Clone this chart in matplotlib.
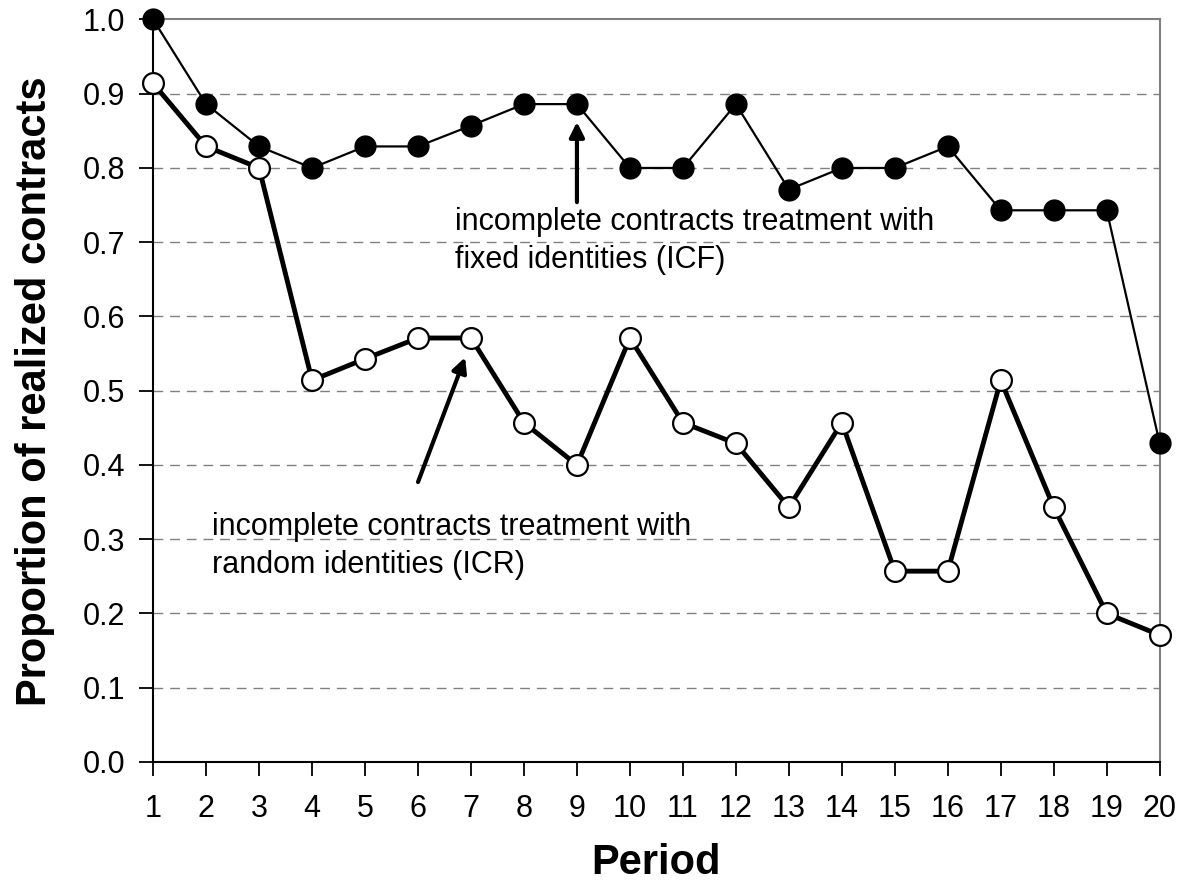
import matplotlib
matplotlib.use('Agg')
import matplotlib.pyplot as plt
import numpy as np

matplotlib.rc('font', family=['Liberation Sans', 'DejaVu Sans'], size=22)

GRAY = np.array([128, 128, 128])/255

# Data
periods = np.arange(1, 21)
icf = [1.000, 0.886, 0.829, 0.800, 0.829, 0.829, 0.857, 0.886, 0.886, 0.800,
       0.800, 0.886, 0.771, 0.800, 0.800, 0.829, 0.743, 0.743, 0.743, 0.429]
icr = [0.914, 0.829, 0.800, 0.514, 0.543, 0.571, 0.571, 0.457, 0.400, 0.571,
       0.457, 0.429, 0.343, 0.457, 0.257, 0.257, 0.514, 0.343, 0.200, 0.171]
y_ticks = np.round(np.arange(0, 1.01, 0.1), 1)

label_icf = 'incomplete contracts treatment with\nfixed identities (ICF)'
label_icr = 'incomplete contracts treatment with\nrandom identities (ICR)'

fig = plt.figure(figsize=(11.87, 8.85), dpi=100)
ax = fig.add_axes([0.129, 0.139, 0.977 - 0.129, 0.978 - 0.139])

# grid
for yv in y_ticks[1:-1]:
    ax.axhline(yv, color=GRAY, lw=1.0, dashes=(7, 5), zorder=1)

# series
ax.plot(periods, icf, '-', color='k', lw=1.6, marker='o', markersize=15,
        markerfacecolor='k', markeredgecolor='k', clip_on=False, zorder=3)
ax.plot(periods, icr, '-', color='k', lw=3.5, marker='o', markersize=15,
        markerfacecolor='white', markeredgecolor='k', markeredgewidth=1.6,
        clip_on=False, zorder=4)

# annotations
ax.annotate('', xy=(9, 0.862), xytext=(9, 0.754),
            arrowprops=dict(arrowstyle='-|>', lw=3, color='k', mutation_scale=22,
                            shrinkA=0, shrinkB=0))
ax.annotate('', xy=(6.89, 0.545), xytext=(6.0, 0.377),
            arrowprops=dict(arrowstyle='-|>', lw=3, color='k', mutation_scale=22,
                            shrinkA=0, shrinkB=0))
ax.text(6.70, 0.748, label_icf, ha='left', va='top', linespacing=1.35)
ax.text(2.11, 0.337, label_icr, ha='left', va='top', linespacing=1.35)

# axes
ax.set_xlim(1, 20)
ax.set_ylim(0, 1.0)
ax.set_xticks(periods)
ax.set_yticks(y_ticks)
ax.set_yticklabels(['%.1f' % v for v in y_ticks])
ax.tick_params(axis='both', direction='out', length=10, width=1.3, color='k')
ax.tick_params(axis='x', pad=13)
ax.tick_params(axis='y', pad=10)

for s in ['left', 'bottom']:
    ax.spines[s].set_color('k')
    ax.spines[s].set_linewidth(1.5)
for s in ['top', 'right']:
    ax.spines[s].set_color(GRAY)
    ax.spines[s].set_linewidth(1.5)

ax.set_xlabel('Period', fontsize=30, fontweight='bold', labelpad=14)
ax.set_ylabel('Proportion of realized contracts', fontsize=30, fontweight='bold', labelpad=20)

plt.savefig('out.png', dpi=100)
plt.close()
